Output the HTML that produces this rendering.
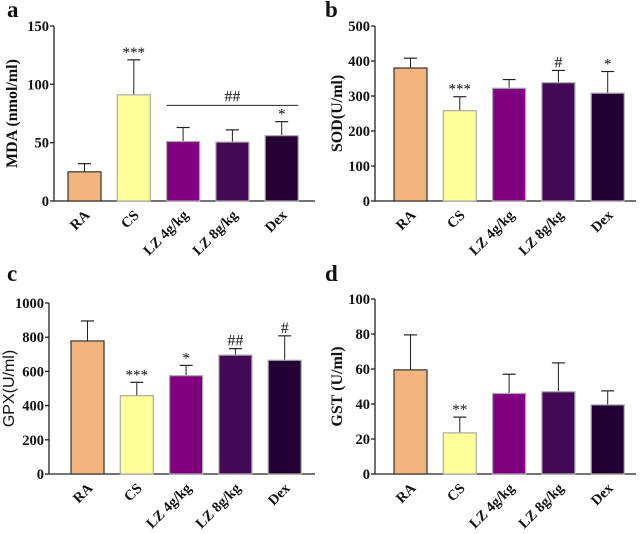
<!DOCTYPE html>
<html><head><meta charset="utf-8"><style>
body{margin:0;background:#fff;}
svg text{font-family:"Liberation Serif",serif;font-weight:bold;fill:#111;}
</style></head><body>
<svg id="s" width="642" height="529" xmlns="http://www.w3.org/2000/svg"></svg>
<script>
const categories=["RA","CS","LZ 4g/kg","LZ 8g/kg","Dex"];
const colors=["#F2B57E","#FFFF99","#800080","#440A57","#250035"];
const strokes=["#333","#aaa","#aaa","#aaa","#aaa"];
const mdaValues=[25,91,51,50.5,56];
const mdaErr=[7,30,12,10.5,12];
const mdaMarks=["","***","","","*"];
const sodValues=[380,258,322,338,308];
const sodErr=[28,40,25,35,62];
const sodMarks=["","***","","#","*"];
const gpxValues=[778,458,575,695,665];
const gpxErr=[117,78,60,38,143];
const gpxMarks=["","***","*","##","#"];
const gstValues=[59.5,23.5,46,47,39.5];
const gstErr=[20,9,11,16.5,8];
const gstMarks=["","**","","",""];
const mdaTicks=[0,50,100,150];
const sodTicks=[0,100,200,300,400,500];
const gpxTicks=[0,200,400,600,800,1000];
const gstTicks=[0,20,40,60,80,100];
const NS="http://www.w3.org/2000/svg";
const svg=document.getElementById('s');
function mk(tag,attrs,parent,text){const e=document.createElementNS(NS,tag);for(const k in attrs)e.setAttribute(k,attrs[k]);if(text!==undefined)e.textContent=text;(parent||svg).appendChild(e);return e;}
function panel(p){
  const g=mk('g',{});
  
  
  const max=p.ticks[p.ticks.length-1];
  const y=v=>p.y0-(v/max)*(p.y0-p.yTop);
  const bx=i=>p.firstBar+i*49.3;
  const lt=mk('text',{x:p.lx,y:p.ly,'font-size':23},g,p.letter);
  
  
  const ya=mk('line',{x1:p.ax,y1:p.yTop,x2:p.ax,y2:p.y0,stroke:'#222','stroke-width':1.3},g);
  
  
  const xa=mk('line',{x1:p.ax,y1:p.y0,x2:p.xEnd,y2:p.y0,stroke:'#222','stroke-width':1.3},g);
  
  
  p.ticks.forEach(t=>{
    mk('line',{x1:p.ax-4,y1:y(t),x2:p.ax,y2:y(t),stroke:'#222','stroke-width':1.3},g);
    const tl=mk('text',{x:p.ax-5,y:y(t)+5,'font-size':14.5,'text-anchor':'end'},g,t);
    
    
  });
  const tt=mk('text',{x:0,y:0,'font-size':p.sans?16:16,'text-anchor':'middle',transform:`translate(${p.tx},${(p.y0+p.yTop)/2}) rotate(-90)`},g,p.title);
  if(p.sans){tt.setAttribute('style','font-family:"Liberation Sans",sans-serif;font-weight:normal');}
  
  
  categories.forEach((c,i)=>{
    const x=bx(i),v=p.values[i],e=p.err[i],cx=x+16.5;
    mk('line',{x1:cx,y1:y(v),x2:cx,y2:y(v+e),stroke:'#222','stroke-width':1},g);
    mk('line',{x1:cx-6.5,y1:y(v+e),x2:cx+6.5,y2:y(v+e),stroke:'#222','stroke-width':1.2},g);
    const r=mk('rect',{x:x,y:y(v),width:33,height:p.y0-y(v),fill:colors[i],stroke:strokes[i],'stroke-width':1.2},g);
    
    
    if(p.marks[i]){
      const m=mk('text',{x:cx,y:y(v+e)-3,'font-size':p.marks[i].includes('#')?16:15,'text-anchor':'middle'},g,p.marks[i]);
      m.setAttribute('style','font-weight:normal');
      
      
    }
    const xl=mk('text',{x:0,y:0,'font-size':14.5,'text-anchor':'end',transform:`translate(${cx+6},${p.y0+15}) rotate(-45)`},g,c);
    
    
  });
  if(p.bracket){
    const by=y(p.bracket.v);
    mk('line',{x1:bx(p.bracket.from),y1:by,x2:bx(p.bracket.to)+33,y2:by,stroke:'#222','stroke-width':1},g);
    const bt=mk('text',{x:(bx(p.bracket.from)+bx(p.bracket.to)+33)/2,y:by-4,'font-size':16,'text-anchor':'middle',style:'font-weight:normal'},g,p.bracket.label);
    
    
  }
}
panel({letter:'a',lx:7,ly:17,ax:54,y0:201,yTop:26,xEnd:315,firstBar:68,ticks:mdaTicks,values:mdaValues,err:mdaErr,marks:mdaMarks,title:'MDA (nmol/ml)',tx:17,bracket:{from:2,to:4,v:82,label:'##'}});
panel({letter:'b',lx:325,ly:17,ax:375,y0:201,yTop:26,xEnd:636,firstBar:394,ticks:sodTicks,values:sodValues,err:sodErr,marks:sodMarks,title:'SOD(U/ml)',tx:342});
panel({letter:'c',lx:7,ly:281,ax:49,y0:474,yTop:303,xEnd:315,firstBar:71,ticks:gpxTicks,values:gpxValues,err:gpxErr,marks:gpxMarks,title:'GPX(U/ml)',tx:14,sans:true});
panel({letter:'d',lx:325,ly:281,ax:375,y0:474,yTop:299,xEnd:636,firstBar:394,ticks:gstTicks,values:gstValues,err:gstErr,marks:gstMarks,title:'GST (U/ml)',tx:342});
</script>
</body></html>
